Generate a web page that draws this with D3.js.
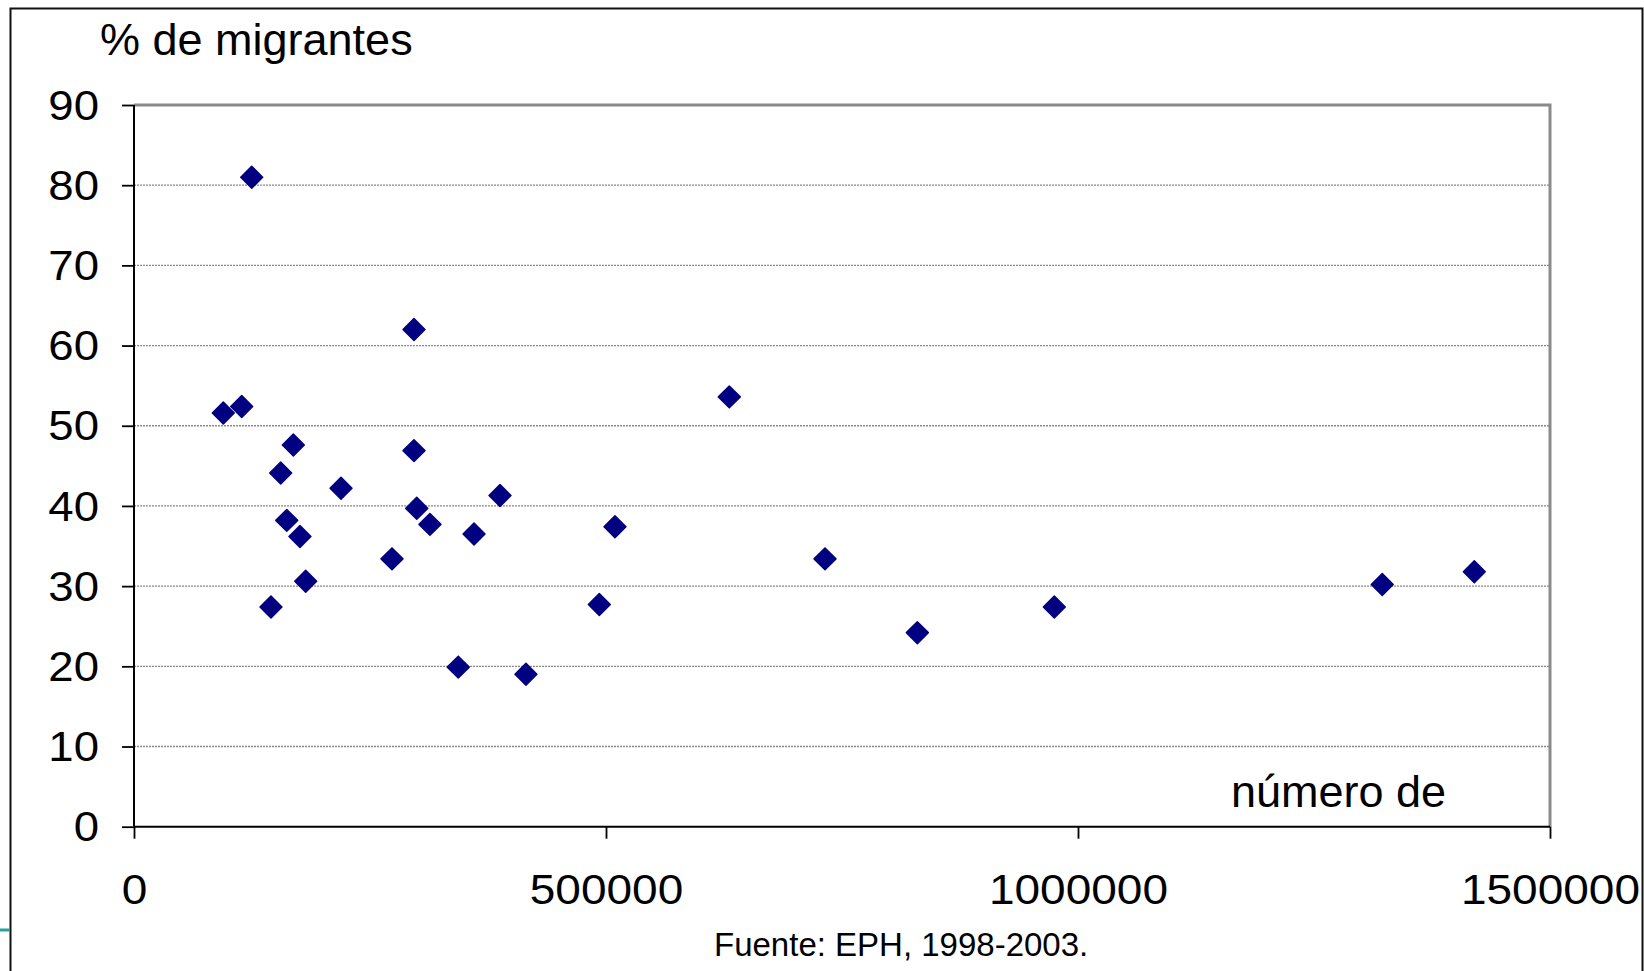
<!DOCTYPE html>
<html>
<head>
<meta charset="utf-8">
<script src="https://cdn.jsdelivr.net/npm/d3@7/dist/d3.min.js"></script>
<style>
  html, body { margin: 0; padding: 0; background: #fff; }
  svg { display: block; }
  text { font-family: "Liberation Sans", Arial, sans-serif; fill: #000; }
  .tick text { transform-box: fill-box; }
  .yax .tick text { transform-origin: right center; transform: scaleX(1.06); }
  .xax .tick text { transform-origin: center center; transform: scaleX(1.07); }
</style>
</head>
<body>
<script>
// Data: x = número de ..., y = % de migrantes
const poblacion = [94600, 114100, 124700, 145100, 155400, 161800, 168800, 175800, 181900,
  219300, 273300, 296600, 296600, 299500, 313500, 343500, 360200, 387700, 415200,
  492900, 509500, 630600, 732000, 829800, 974900, 1322300, 1419800];
const migrantes = [51.6, 52.4, 81.0, 27.4, 44.1, 38.2, 47.6, 36.2, 30.6,
  42.2, 33.4, 62.0, 46.9, 39.7, 37.7, 19.9, 36.5, 41.3, 19.0,
  27.7, 37.4, 53.6, 33.4, 24.2, 27.4, 30.2, 31.8];
const xTicks = [0, 500000, 1000000, 1500000];
const yTicks = [0, 10, 20, 30, 40, 50, 60, 70, 80, 90];
const yTitle = "% de migrantes";
const xTitle = "número de";
const fuente = "Fuente: EPH, 1998-2003.";

(function () {
const W = 1644, H = 971;
const mLeft = 134, mRight = 1550, mTop = 105, mBottom = 826.7;

const svg = d3.select("body").append("svg").attr("width", W).attr("height", H);

// outer frame
svg.append("rect").attr("x", 10.5).attr("y", 8.5).attr("width", 1632).attr("height", 990)
  .attr("fill", "none").attr("stroke", "#111").attr("stroke-width", 2);
svg.append("line").attr("x1", 0).attr("x2", 10).attr("y1", 930).attr("y2", 930)
  .attr("stroke", "#22a3a3").attr("stroke-width", 3);

const x = d3.scaleLinear().domain([0, 1500000]).range([mLeft, mRight]);
const y = d3.scaleLinear().domain([0, 90]).range([mBottom, mTop]);

// gridlines
svg.append("g").selectAll("line").data(yTicks.filter(d => d > 0 && d < 90)).join("line")
  .attr("x1", mLeft).attr("x2", mRight)
  .attr("y1", d => y(d)).attr("y2", d => y(d))
  .attr("stroke", "#888").attr("stroke-width", 1.3).attr("stroke-dasharray", "2,1");

// plot area top/right border
svg.append("path")
  .attr("d", `M${mLeft},${y(90)}H${x(1500000)}V${y(0)}`)
  .attr("fill", "none").attr("stroke", "#8a8a8a").attr("stroke-width", 3);

// axes
const yAxis = svg.append("g").attr("class", "yax").attr("transform", `translate(${mLeft},0)`)
  .call(d3.axisLeft(y).tickValues(yTicks).tickSize(12).tickPadding(23).tickFormat(d3.format("d")));
const xAxis = svg.append("g").attr("class", "xax").attr("transform", `translate(0,${mBottom})`)
  .call(d3.axisBottom(x).tickValues(xTicks).tickSize(12).tickFormat(d3.format("d")));

[yAxis, xAxis].forEach(a => {
  a.select(".domain").attr("stroke", "#000").attr("stroke-width", 2);
  a.selectAll(".tick line").attr("stroke", "#000").attr("stroke-width", 1.8);
  a.selectAll(".tick text").attr("font-size", 43).attr("fill", "#000")
    .style("font-family", '"Liberation Sans", Arial, sans-serif');
});
yAxis.select(".domain").attr("d", `M0,${mTop}V${mBottom}`);
xAxis.select(".domain").attr("d", `M${mLeft},0H${mRight}`);
xAxis.selectAll(".tick text").attr("y", 77).attr("dy", 0);
yAxis.selectAll(".tick text").attr("dy", "0.33em");

// points
const pts = poblacion.map((p, i) => ({ p, m: migrantes[i] }));
svg.append("g").selectAll("path").data(pts).join("path")
  .attr("d", d3.symbol().type(d3.symbolSquare).size(240))
  .attr("transform", d => `translate(${x(d.p)},${y(d.m)}) rotate(45)`)
  .attr("fill", "#000080").attr("stroke", "#000080").attr("stroke-width", 1.5)
  .attr("stroke-linejoin", "round");

// texts
svg.append("text").attr("x", 100).attr("y", 55).attr("font-size", 45).text(yTitle);
svg.append("text").attr("x", 1231).attr("y", 807).attr("font-size", 45).text(xTitle);
svg.append("text").attr("x", 714).attr("y", 956).attr("font-size", 33).text(fuente);
})();
</script>
</body>
</html>
